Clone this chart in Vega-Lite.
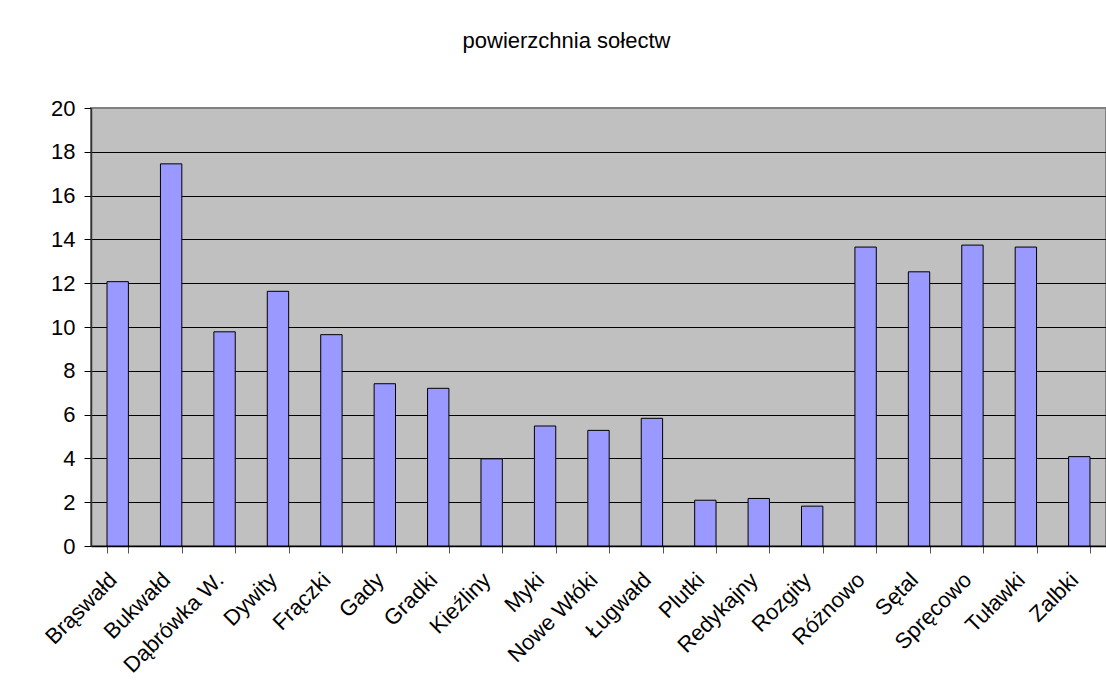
{
  "$schema": "https://vega.github.io/schema/vega-lite/v6.json",
  "autosize": {"type": "none"},
  "padding": {"left": 91, "top": 108, "right": 0, "bottom": 151},
  "width": 1015,
  "height": 438,
  "background": "white",
  "title": {
    "text": "powierzchnia sołectw",
    "font": "Liberation Sans",
    "fontSize": 22,
    "fontWeight": "normal",
    "color": "black",
    "anchor": "middle",
    "baseline": "alphabetic",
    "offset": 27,
    "dx": -32
  },
  "data": {
    "values": [
      {"solectwo": "Brąswałd", "pow": 12.07},
      {"solectwo": "Bukwałd", "pow": 17.45},
      {"solectwo": "Dąbrówka W.", "pow": 9.78},
      {"solectwo": "Dywity", "pow": 11.63},
      {"solectwo": "Frączki", "pow": 9.65},
      {"solectwo": "Gady", "pow": 7.41},
      {"solectwo": "Gradki", "pow": 7.2},
      {"solectwo": "Kieźliny", "pow": 3.98},
      {"solectwo": "Myki", "pow": 5.48},
      {"solectwo": "Nowe Włóki", "pow": 5.28},
      {"solectwo": "Ługwałd", "pow": 5.83},
      {"solectwo": "Plutki", "pow": 2.09},
      {"solectwo": "Redykajny", "pow": 2.17},
      {"solectwo": "Rozgity", "pow": 1.82},
      {"solectwo": "Różnowo", "pow": 13.65},
      {"solectwo": "Sętal", "pow": 12.52},
      {"solectwo": "Spręcowo", "pow": 13.74},
      {"solectwo": "Tuławki", "pow": 13.65},
      {"solectwo": "Zalbki", "pow": 4.08}
    ]
  },
  "mark": {"type": "bar", "fill": "#9999FF", "stroke": "black", "strokeWidth": 1},
  "encoding": {
    "x": {
      "field": "solectwo",
      "type": "nominal",
      "sort": null,
      "scale": {"paddingInner": 0.6, "paddingOuter": 0.3},
      "axis": {
        "title": null,
        "labelAngle": -45,
        "labelAlign": "right",
        "labelBaseline": "middle",
        "labelPadding": 23,
        "labelOffset": -5,
        "labelFont": "Liberation Sans",
        "labelFontSize": 22,
        "labelColor": "black",
        "tickBand": "extent",
        "tickSize": 7,
        "tickColor": "#555555",
        "domainColor": "black",
        "domainWidth": 1.5,
        "grid": false,
        "labelOverlap": false
      }
    },
    "y": {
      "field": "pow",
      "type": "quantitative",
      "scale": {"domain": [0, 20], "nice": false},
      "axis": {
        "title": null,
        "values": [0, 2, 4, 6, 8, 10, 12, 14, 16, 18, 20],
        "labelFont": "Liberation Sans",
        "labelFontSize": 22,
        "labelColor": "black",
        "labelPadding": 9,
        "tickSize": 7,
        "tickColor": "black",
        "domainColor": "#333333",
        "domainWidth": 1.5,
        "grid": true,
        "gridColor": {"condition": {"test": "datum.value == 20", "value": "#808080"}, "value": "black"},
        "gridWidth": 1,
        "gridOpacity": 1
      }
    }
  },
  "config": {
    "view": {"fill": "#C0C0C0", "stroke": "#808080", "strokeWidth": 2}
  }
}
